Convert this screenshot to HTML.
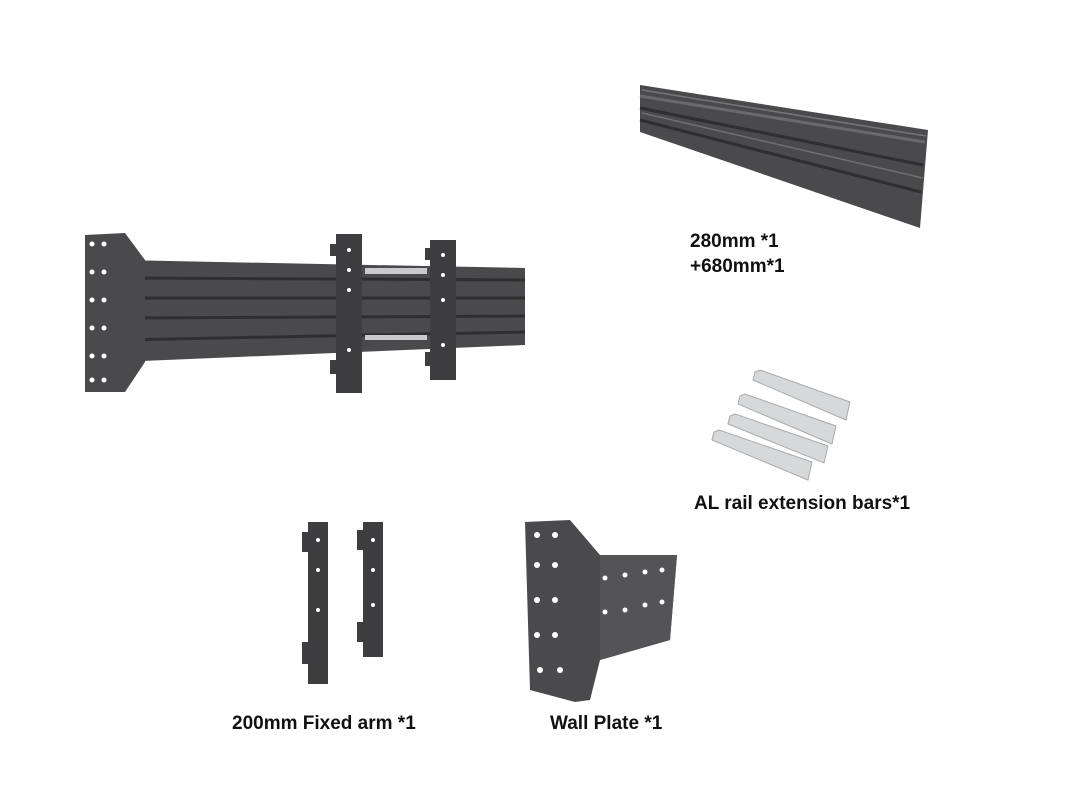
<!DOCTYPE html>
<html><head><meta charset="utf-8"><style>
html,body{margin:0;padding:0;background:#fff;}
svg{display:block;}
text{font-family:"Liberation Sans",Arial,sans-serif;font-weight:bold;font-size:19px;fill:#111;}
</style></head><body>
<svg width="1080" height="810" viewBox="0 0 1080 810" xmlns="http://www.w3.org/2000/svg">
<polygon points="640,85 928,130 920,228 640,132" fill="#4a4a4c"/>
<polyline points="640,96 925,142" stroke="#6a6a6c" stroke-width="3" fill="none"/>
<polyline points="640,108 923,165" stroke="#2e2e30" stroke-width="3" fill="none"/>
<polyline points="640,120 921,192" stroke="#2e2e30" stroke-width="3" fill="none"/>
<polyline points="642,90 926,136" stroke="#767678" stroke-width="1.5" fill="none"/>
<polyline points="642,113 923,178" stroke="#707072" stroke-width="1.5" fill="none"/>
<text x="690" y="247">280mm *1</text>
<text x="690" y="272">+680mm*1</text>
<g fill="#d6d8da" stroke="#a8aaac" stroke-width="1">
<polygon points="755,372 760,370 850,402 846,420 753,380"/>
<polygon points="740,396 745,394 836,426 832,444 738,404"/>
<polygon points="730,416 735,414 828,446 824,463 728,424"/>
<polygon points="714,432 719,430 812,462 808,480 712,440"/>
</g>
<text x="694" y="509">AL rail extension bars*1</text>
<polygon points="118,260 525,268 525,345 118,362" fill="#4a4a4c"/>
<polyline points="118,278 525,280" stroke="#2e2e30" stroke-width="3" fill="none"/>
<polyline points="118,298 525,298" stroke="#2e2e30" stroke-width="3" fill="none"/>
<polyline points="118,318 525,316" stroke="#2e2e30" stroke-width="3" fill="none"/>
<polyline points="118,340 525,332" stroke="#2e2e30" stroke-width="3" fill="none"/>
<rect x="365" y="268" width="62" height="6" fill="#c8cacc"/>
<rect x="365" y="335" width="62" height="5" fill="#c8cacc"/>
<polygon points="85,235 125,233 145,260 145,362 125,392 85,392" fill="#4a4a4c"/>
<g fill="#fff">
<circle cx="92" cy="244" r="2.5"/><circle cx="104" cy="244" r="2.5"/>
<circle cx="92" cy="272" r="2.5"/><circle cx="104" cy="272" r="2.5"/>
<circle cx="92" cy="300" r="2.5"/><circle cx="104" cy="300" r="2.5"/>
<circle cx="92" cy="328" r="2.5"/><circle cx="104" cy="328" r="2.5"/>
<circle cx="92" cy="356" r="2.5"/><circle cx="104" cy="356" r="2.5"/>
<circle cx="92" cy="380" r="2.5"/><circle cx="104" cy="380" r="2.5"/>
</g>
<rect x="336" y="234" width="26" height="159" fill="#3e3e40"/>
<rect x="330" y="244" width="8" height="12" fill="#3e3e40"/>
<rect x="330" y="360" width="8" height="14" fill="#3e3e40"/>
<rect x="430" y="240" width="26" height="140" fill="#3e3e40"/>
<rect x="425" y="248" width="8" height="12" fill="#3e3e40"/>
<rect x="425" y="352" width="8" height="14" fill="#3e3e40"/>
<g fill="#fff"><circle cx="349" cy="250" r="2"/><circle cx="349" cy="270" r="2"/><circle cx="349" cy="290" r="2"/><circle cx="349" cy="350" r="2"/><circle cx="443" cy="255" r="2"/><circle cx="443" cy="275" r="2"/><circle cx="443" cy="300" r="2"/><circle cx="443" cy="345" r="2"/></g>
<rect x="308" y="522" width="20" height="162" fill="#3e3e40"/>
<rect x="302" y="532" width="8" height="20" fill="#3e3e40"/>
<rect x="302" y="642" width="8" height="22" fill="#3e3e40"/>
<rect x="363" y="522" width="20" height="135" fill="#3e3e40"/>
<rect x="357" y="530" width="8" height="20" fill="#3e3e40"/>
<rect x="357" y="622" width="8" height="20" fill="#3e3e40"/>
<g fill="#fff"><circle cx="318" cy="540" r="2"/><circle cx="318" cy="570" r="2"/><circle cx="318" cy="610" r="2"/><circle cx="373" cy="540" r="2"/><circle cx="373" cy="570" r="2"/><circle cx="373" cy="605" r="2"/></g>
<text x="232" y="729">200mm Fixed arm *1</text>
<polygon points="525,522 570,520 600,555 677,555 670,640 600,660 590,700 575,702 530,690" fill="#4a4a4c"/>
<polygon points="600,555 677,555 670,640 600,660" fill="#545456"/>
<g fill="#fff">
<circle cx="537" cy="535" r="3"/><circle cx="555" cy="535" r="3"/>
<circle cx="537" cy="565" r="3"/><circle cx="555" cy="565" r="3"/>
<circle cx="537" cy="600" r="3"/><circle cx="555" cy="600" r="3"/>
<circle cx="537" cy="635" r="3"/><circle cx="555" cy="635" r="3"/>
<circle cx="540" cy="670" r="3"/><circle cx="560" cy="670" r="3"/>
<circle cx="605" cy="578" r="2.5"/><circle cx="625" cy="575" r="2.5"/><circle cx="645" cy="572" r="2.5"/><circle cx="662" cy="570" r="2.5"/>
<circle cx="605" cy="612" r="2.5"/><circle cx="625" cy="610" r="2.5"/><circle cx="645" cy="605" r="2.5"/><circle cx="662" cy="602" r="2.5"/>
</g>
<text x="550" y="729">Wall Plate *1</text>
</svg>
</body></html>
